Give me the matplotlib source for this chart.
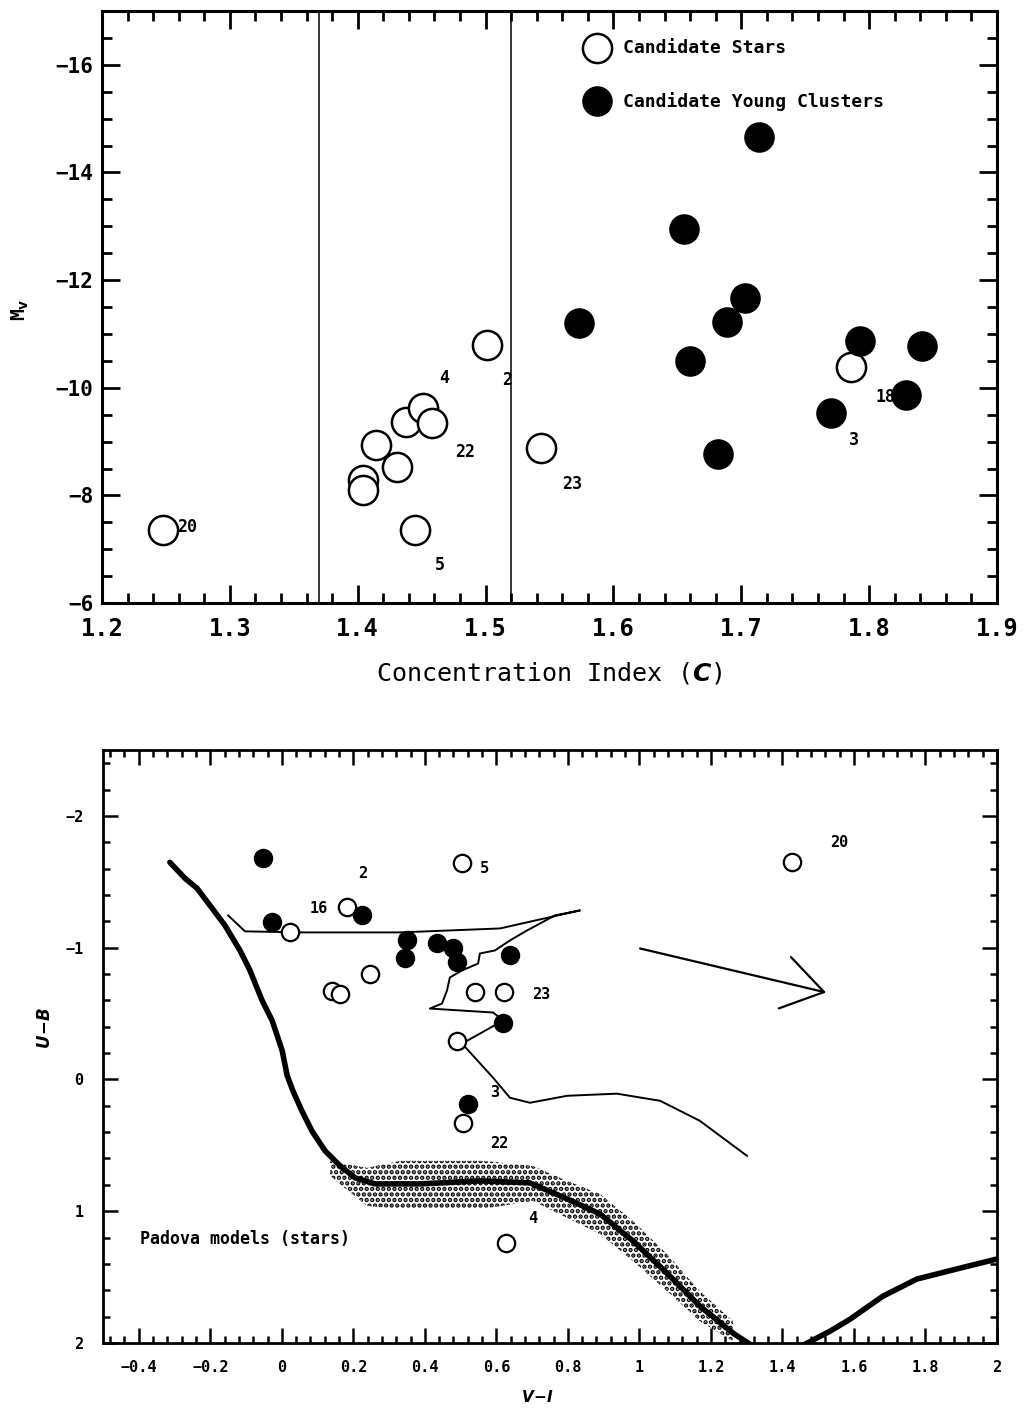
import matplotlib
matplotlib.use("Agg")
import matplotlib.pyplot as plt
import numpy as np
from matplotlib.ticker import MultipleLocator, FixedLocator, FuncFormatter

plt.rcParams['font.family'] = ['DejaVu Sans Mono', 'DejaVu Sans']
plt.rcParams['font.weight'] = 'bold'
plt.rcParams['hatch.linewidth'] = 2.2

# ---------------- Top panel data: concentration index vs M_V ----------------
star_C = [1.248, 1.404, 1.404, 1.414, 1.431, 1.438, 1.451, 1.458, 1.445, 1.501, 1.543, 1.786]
star_MV = [-7.36, -8.29, -8.10, -8.94, -8.53, -9.36, -9.62, -9.35, -7.36, -10.80, -8.88, -10.39]

clus_C = [1.714, 1.655, 1.703, 1.573, 1.689, 1.660, 1.793, 1.841, 1.829, 1.770, 1.682]
clus_MV = [-14.66, -12.95, -11.67, -11.20, -11.22, -10.50, -10.87, -10.78, -9.87, -9.53, -8.77]

top_lab_text = ["20", "4", "2", "22", "5", "23", "18", "3"]
top_lab_x = [1.259, 1.464, 1.513, 1.476, 1.460, 1.560, 1.805, 1.784]
top_lab_y = [-7.41, -10.18, -10.14, -8.81, -6.71, -8.21, -9.83, -9.03]

C_limits = [1.37, 1.52]

# ---------------- Bottom panel data: V-I vs U-B ----------------
bstar_VI = [1.427, 0.504, 0.182, 0.023, 0.247, 0.140, 0.163, 0.540, 0.621, 0.490, 0.507, 0.627]
bstar_UB = [-1.648, -1.640, -1.306, -1.116, -0.804, -0.675, -0.645, -0.667, -0.667, -0.295, 0.329, 1.241]

bclus_VI = [-0.053, -0.027, 0.224, 0.350, 0.345, 0.434, 0.480, 0.490, 0.638, 0.619, 0.521]
bclus_UB = [-1.679, -1.192, -1.245, -1.055, -0.918, -1.032, -1.000, -0.890, -0.941, -0.432, 0.184]

bot_lab_text = ["20", "5", "2", "16", "23", "3", "22", "4"]
bot_lab_x = [1.533, 0.554, 0.213, 0.079, 0.700, 0.582, 0.582, 0.688]
bot_lab_y = [-1.80, -1.603, -1.565, -1.30, -0.644, 0.101, 0.489, 1.059]

# cluster evolutionary track (thin line)
track_VI = [-0.150, -0.103, 0.051, 0.331, 0.610, 0.834, 0.764, 0.686, 0.638, 0.596, 0.554,
            0.549, 0.504, 0.470, 0.462, 0.448, 0.414, 0.591, 0.619, 0.504, 0.591, 0.638,
            0.694, 0.798, 0.937, 1.058, 1.169, 1.301]
track_UB = [-1.245, -1.124, -1.116, -1.116, -1.146, -1.283, -1.245, -1.131, -1.055, -0.979, -0.956,
            -0.880, -0.827, -0.774, -0.675, -0.576, -0.538, -0.508, -0.447, -0.272, -0.013, 0.139,
            0.177, 0.124, 0.108, 0.162, 0.314, 0.580]

# Padova stellar isochrone (thick line, two visible branches)
iso_VI = [-0.313, -0.271, -0.237, -0.201, -0.159, -0.117, -0.089, -0.055, -0.027, 0.001, 0.015,
          0.031, 0.056, 0.084, 0.121, 0.163, 0.205, 0.261, 0.386, 0.554, 0.694, 0.798, 0.890,
          0.982, 1.077, 1.169, 1.262, 1.309, np.nan,
          1.463, 1.533, 1.589, 1.681, 1.776, 1.897, 2.0]
iso_UB = [-1.648, -1.527, -1.451, -1.321, -1.169, -0.979, -0.827, -0.599, -0.447, -0.219, -0.029,
          0.086, 0.238, 0.390, 0.542, 0.656, 0.747, 0.793, 0.793, 0.770, 0.785, 0.907, 1.021,
          1.226, 1.470, 1.720, 1.926, 2.01, np.nan,
          2.01, 1.911, 1.820, 1.645, 1.515, 1.432, 1.363]

# scattered band of model stars (envelope)
band_VI = [0.135, 0.238, 0.331, 0.563, 0.702, 0.798, 0.890, 0.982, 1.077, 1.169, 1.262]
band_top = [0.618, 0.671, 0.618, 0.618, 0.656, 0.770, 0.869, 1.074, 1.325, 1.606, 1.835]
band_bot = [0.732, 0.960, 0.983, 0.983, 0.922, 1.051, 1.173, 1.378, 1.606, 1.835, 1.987]

arrow_start = (1.002, -0.994)
arrow_end = (1.522, -0.660)

# ---------------- Figure ----------------
fig = plt.figure(figsize=(10.24, 14.12), dpi=100)

ax1 = fig.add_axes([0.0996, 0.5729, 0.8740, 0.4193])
ax2 = fig.add_axes([0.1006, 0.0489, 0.8730, 0.4199])

def style_axes(ax, maj_len, min_len, lw):
    for s in ax.spines.values():
        s.set_linewidth(lw)
    ax.tick_params(which='both', direction='in', top=True, right=True, width=lw * 0.9)
    ax.tick_params(which='major', length=maj_len)
    ax.tick_params(which='minor', length=min_len)

def fmt_num(v, pos):
    s = ('%g' % round(v, 6))
    return s.replace('-', '\u2212')

# --- top ---
ax1.set_xlim(1.2, 1.9)
ax1.set_ylim(-6, -17)
ax1.xaxis.set_major_locator(MultipleLocator(0.1))
ax1.xaxis.set_minor_locator(MultipleLocator(0.02))
ax1.yaxis.set_major_locator(FixedLocator([-6, -8, -10, -12, -14, -16]))
ax1.yaxis.set_minor_locator(MultipleLocator(0.5))
ax1.xaxis.set_major_formatter(FuncFormatter(fmt_num))
ax1.yaxis.set_major_formatter(FuncFormatter(fmt_num))
style_axes(ax1, 13, 7, 2.2)
ax1.tick_params(axis='x', labelsize=17, pad=10)
ax1.tick_params(axis='y', labelsize=15, pad=6)

for c in C_limits:
    ax1.axvline(c, color='black', lw=1.1, zorder=1)

ax1.plot(star_C, star_MV, 'o', ms=21, mfc='white', mec='black', mew=1.8, ls='none', zorder=3)
ax1.plot(clus_C, clus_MV, 'o', ms=21, mfc='black', mec='black', mew=1.0, ls='none', zorder=3)
for t, x, y in zip(top_lab_text, top_lab_x, top_lab_y):
    ax1.text(x, y, t, fontsize=12, ha='left', va='center', zorder=4)

# legend (manual, as in the original)
ax1.plot([0.5529], [0.9371], 'o', ms=21, mfc='white', mec='black', mew=1.8,
         transform=ax1.transAxes, clip_on=False)
ax1.plot([0.5529], [0.8477], 'o', ms=21, mfc='black', mec='black',
         transform=ax1.transAxes, clip_on=False)
ax1.text(0.5820, 0.9371, 'Candidate Stars', fontsize=13, ha='left', va='center',
         transform=ax1.transAxes)
ax1.text(0.5820, 0.8477, 'Candidate Young Clusters', fontsize=13, ha='left', va='center',
         transform=ax1.transAxes)

ax1.set_xlabel('Concentration Index ($\\mathit{C}$)', fontsize=18, labelpad=14)
fig.text(0.020, 1 - 310 / 1412, 'M$_{\\mathbf{v}}$', rotation=90, fontsize=14,
         ha='center', va='center', fontweight='bold')

# --- bottom ---
ax2.set_xlim(-0.5, 2.0)
ax2.set_ylim(2.0, -2.5)
ax2.xaxis.set_major_locator(MultipleLocator(0.2))
ax2.xaxis.set_minor_locator(MultipleLocator(0.04))
ax2.yaxis.set_major_locator(MultipleLocator(1))
ax2.yaxis.set_minor_locator(MultipleLocator(0.2))
ax2.xaxis.set_major_formatter(FuncFormatter(fmt_num))
ax2.yaxis.set_major_formatter(FuncFormatter(fmt_num))
style_axes(ax2, 11, 5, 2.0)
ax2.tick_params(axis='both', labelsize=11)
ax2.tick_params(axis='x', pad=12)
ax2.tick_params(axis='y', pad=14)

ax2.fill_between(band_VI, band_top, band_bot, facecolor='white', edgecolor='black',
                 hatch='...', lw=0, zorder=1)
ax2.plot(iso_VI, iso_UB, color='black', lw=4.0, solid_capstyle='round', zorder=2)
ax2.plot(track_VI, track_UB, color='black', lw=1.4, zorder=2)

ax2.plot(bstar_VI, bstar_UB, 'o', ms=12.5, mfc='white', mec='black', mew=1.6, ls='none', zorder=3)
ax2.plot(bclus_VI, bclus_UB, 'o', ms=13, mfc='black', mec='black', ls='none', zorder=3)
for t, x, y in zip(bot_lab_text, bot_lab_x, bot_lab_y):
    ax2.text(x, y, t, fontsize=11, ha='left', va='center', zorder=4)

ax2.annotate('', xy=arrow_end, xytext=arrow_start,
             arrowprops=dict(arrowstyle='->,head_length=2.9,head_width=1.9', lw=1.6,
                             color='black', shrinkA=0, shrinkB=0))

ax2.text(-0.397, 1.211, 'Padova models (stars)', fontsize=12, ha='left', va='center')

fig.text(0.044, 0.272, '$\\mathit{U\\!-\\!B}$', rotation=90, fontsize=12, ha='center', va='center')
fig.text(0.525, 0.0106, '$\\mathit{V\\!-\\!I}$', fontsize=11, ha='center', va='center')

fig.savefig('out.png', dpi=100, facecolor='white')
